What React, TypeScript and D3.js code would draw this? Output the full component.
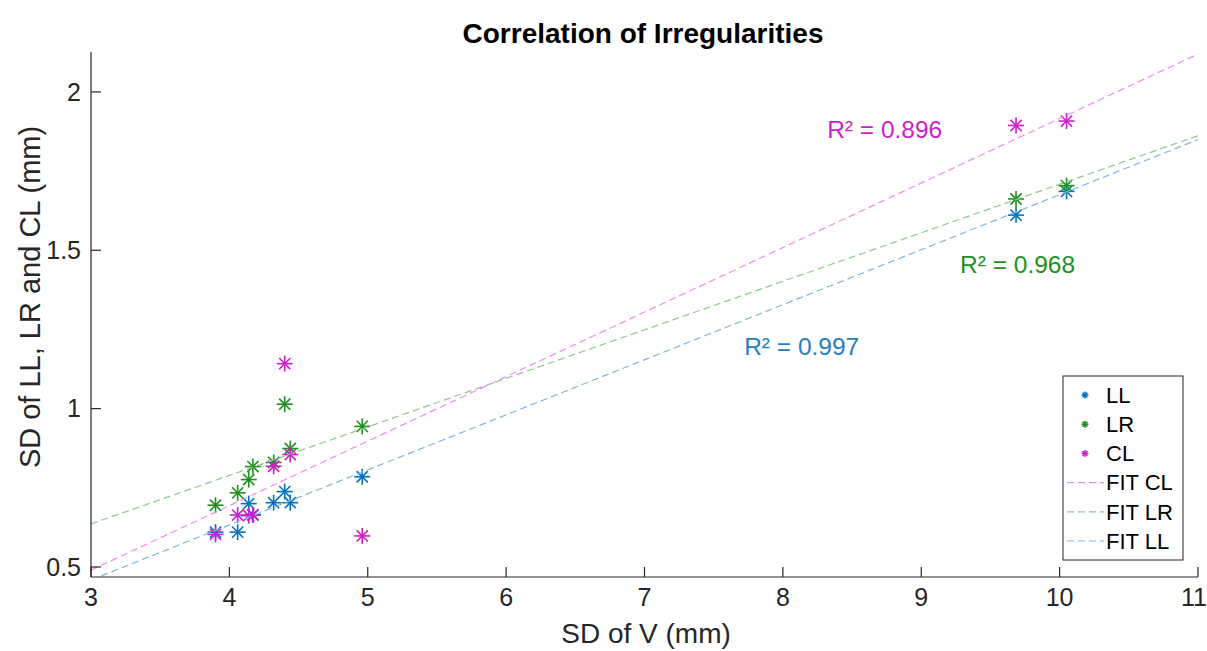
import React from "react";
import * as d3 from "d3";

// ---- data ----
const sdV = [3.9, 4.06, 4.14, 4.17, 4.32, 4.4, 4.44, 4.96, 9.685, 10.05];
const sdLL = [0.61, 0.61, 0.7, 0.665, 0.703, 0.738, 0.703, 0.785, 1.611, 1.686];
const sdLR = [0.695, 0.734, 0.776, 0.817, 0.83, 1.014, 0.874, 0.944, 1.662, 1.704];
const sdCL = [0.603, 0.664, 0.662, 0.664, 0.818, 1.142, 0.855, 0.598, 1.894, 1.908];

const seriesNames = ["LL", "LR", "CL"];
const seriesColors = ["#0072BD", "#1F8F1F", "#CC1FCC"];
const fitNames = ["FIT CL", "FIT LR", "FIT LL"];
const fitColors = ["#F08CF0", "#8DC98D", "#7FB6E2"];
const fitIntercept = [0.49, 0.636, 0.459]; // value at x = 3
const fitSlope = [0.2037, 0.1532, 0.1738];

const r2Labels = ["R² = 0.896", "R² = 0.968", "R² = 0.997"];
const r2X = [8.32, 9.28, 7.72];
const r2Y = [1.88, 1.454, 1.195];
const r2Colors = ["#CC1FCC", "#1F8F1F", "#1F7FC4"];

const xTicks = [3, 4, 5, 6, 7, 8, 9, 10, 11];
const yTicks = [0.5, 1, 1.5, 2];
const xDomain = [3, 11];
const yDomain = [0.4684, 2.126];

const FONT = "'Liberation Sans', Arial, Helvetica, sans-serif";
const AXC = "#262626";

function Asterisk({ x, y, color, r = 8, sw = 1.6 }: { x: number; y: number; color: string; r?: number; sw?: number }) {
  const d = r * 0.7;
  return (
    <g stroke={color} strokeWidth={sw} strokeLinecap="butt">
      <line x1={x - r} y1={y} x2={x + r} y2={y} />
      <line x1={x} y1={y - r} x2={x} y2={y + r} />
      <line x1={x - d} y1={y - d} x2={x + d} y2={y + d} />
      <line x1={x - d} y1={y + d} x2={x + d} y2={y - d} />
    </g>
  );
}

export default function App() {
  const W = 1207, H = 651;
  const left = 91, right = 1198, top = 52, bottom = 577;
  const x = d3.scaleLinear().domain(xDomain).range([left, right]);
  const y = d3.scaleLinear().domain(yDomain).range([bottom, top]);
  const seriesVals = [sdLL, sdLR, sdCL];
  const line = d3.line<number[]>().x((v) => x(v[0])).y((v) => y(v[1]));

  const legX = 1063, legY = 376, legW = 120, legH = 184;
  const legRow = (i: number) => legY + 19 + i * 29.2;

  return (
    <svg width={W} height={H} style={{ position: "absolute", left: 0, top: 0, background: "#fff" }} fontFamily={FONT}>
      <rect width={W} height={H} fill="#fff" />
      <defs>
        <clipPath id="plotclip">
          <rect x={left} y={top} width={right - left} height={bottom - top} />
        </clipPath>
      </defs>

      {/* points */}
      {seriesVals.map((vals, si) => (
        <g key={si}>
          {vals.map((v, i) => (
            <Asterisk key={i} x={x(sdV[i])} y={y(v)} color={seriesColors[si]} />
          ))}
        </g>
      ))}

      {/* fit lines */}
      <g clipPath="url(#plotclip)">
        {fitNames.map((n, i) => {
          const pts = xDomain.map((xv) => [xv, fitIntercept[i] + fitSlope[i] * (xv - 3)]);
          return (
            <path key={n} d={line(pts) || ""} fill="none" stroke={fitColors[i]} strokeWidth={1.2} strokeDasharray="7,4" />
          );
        })}
      </g>

      {/* R² labels */}
      {r2Labels.map((t, i) => (
        <text key={t} x={x(r2X[i])} y={y(r2Y[i])} dy="0.35em" fill={r2Colors[i]} fontSize={24.5}>
          {t}
        </text>
      ))}

      {/* axes */}
      <g stroke={AXC} strokeWidth={1.2} fill="none">
        <line x1={left} y1={bottom} x2={right} y2={bottom} />
        <line x1={left} y1={bottom} x2={left} y2={top} />
        {xTicks.map((t) => (
          <line key={t} x1={x(t)} x2={x(t)} y1={bottom} y2={bottom - 10} />
        ))}
        {yTicks.map((t) => (
          <line key={t} x1={left} x2={left + 10} y1={y(t)} y2={y(t)} />
        ))}
      </g>
      {xTicks.map((t, i) => (
        <text key={t} x={x(t) - (i === xTicks.length - 1 ? 4 : 0)} y={bottom + 29} textAnchor="middle" fontSize={25} fill={AXC}>
          {t}
        </text>
      ))}
      {yTicks.map((t) => (
        <text key={t} x={left - 10} y={y(t)} dy="0.35em" textAnchor="end" fontSize={25} fill={AXC}>
          {t}
        </text>
      ))}

      {/* labels */}
      <text x={646} y={643} textAnchor="middle" fontSize={28} fill={AXC}>
        SD of V (mm)
      </text>
      <text transform="translate(40,297) rotate(-90)" textAnchor="middle" fontSize={29} fill={AXC}>
        SD of LL, LR and CL (mm)
      </text>
      <text x={643} y={43} textAnchor="middle" fontSize={28} fontWeight="bold" fill="#000">
        Correlation of Irregularities
      </text>

      {/* legend */}
      <rect x={legX} y={legY} width={legW} height={legH} fill="#fff" stroke={AXC} strokeWidth={1} />
      {seriesNames.map((n, i) => (
        <g key={n}>
          <Asterisk x={legX + 22} y={legRow(i)} color={seriesColors[i]} r={3.5} sw={1.5} />
          <text x={legX + 43} y={legRow(i)} dy="0.35em" fontSize={22} fill="#000">
            {n}
          </text>
        </g>
      ))}
      {fitNames.map((n, i) => (
        <g key={n}>
          <line x1={legX + 4} x2={legX + 41} y1={legRow(i + 3)} y2={legRow(i + 3)} stroke={fitColors[i]} strokeWidth={1.2} strokeDasharray="7,4" />
          <text x={legX + 43} y={legRow(i + 3)} dy="0.35em" fontSize={22} fill="#000">
            {n}
          </text>
        </g>
      ))}
    </svg>
  );
}
